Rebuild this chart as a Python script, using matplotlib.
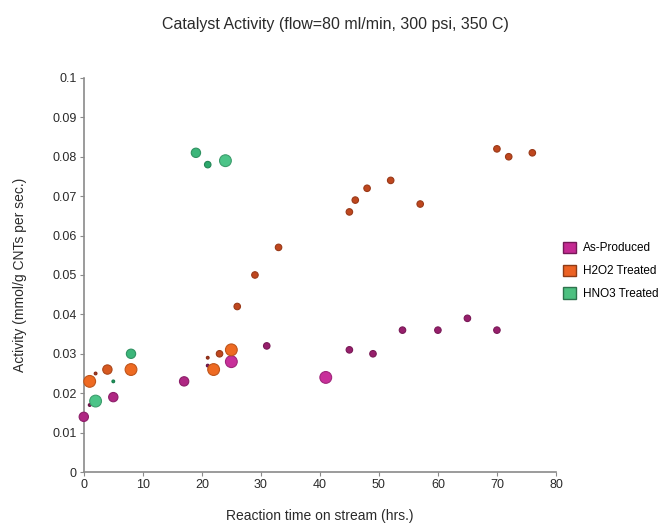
import numpy as np
import matplotlib
matplotlib.use("Agg")
import matplotlib.pyplot as plt
from matplotlib.patches import Patch
from matplotlib.colors import to_rgb

plt.rcParams['font.family'] = ['Liberation Sans', 'DejaVu Sans']

# As-Produced
ap_x = [0, 1, 5, 17, 21, 25, 31, 41, 45, 49, 54, 60, 65, 70]
ap_y = [0.014, 0.017, 0.019, 0.023, 0.027, 0.028, 0.032, 0.024, 0.031, 0.030, 0.036, 0.036, 0.039, 0.036]
ap_s = [3, 1, 3, 3, 1, 4, 2, 4, 2, 2, 2, 2, 2, 2]

# H2O2 Treated
h2_x = [1, 2, 4, 8, 21, 22, 23, 25, 26, 29, 33, 45, 46, 48, 52, 57, 70, 72, 76]
h2_y = [0.023, 0.025, 0.026, 0.026, 0.029, 0.026, 0.030, 0.031, 0.042, 0.050, 0.057,
        0.066, 0.069, 0.072, 0.074, 0.068, 0.082, 0.080, 0.081]
h2_s = [4, 1, 3, 4, 1, 4, 2, 4, 2, 2, 2, 2, 2, 2, 2, 2, 2, 2, 2]

# HNO3 Treated
hn_x = [2, 5, 8, 19, 21, 24]
hn_y = [0.018, 0.023, 0.030, 0.081, 0.078, 0.079]
hn_s = [4, 1, 3, 3, 2, 4]

series = [
    ("As-Produced", ap_x, ap_y, ap_s, "#7e1655", "#c8309a", "#c42a92"),
    ("H2O2 Treated", h2_x, h2_y, h2_s, "#a8361c", "#ee6a22", "#ec6224"),
    ("HNO3 Treated", hn_x, hn_y, hn_s, "#1c9a5e", "#4cc488", "#4dc080"),
]

size_pt = {1: 4, 2: 22, 3: 45, 4: 72}

fig = plt.figure(figsize=(6.65, 5.23), dpi=100)
ax = fig.add_axes([0.126, 0.0975, 0.71, 0.7535])

handles = []
for name, xs, ys, ss, dark, bright, leg in series:
    d = np.array(to_rgb(dark))
    b = np.array(to_rgb(bright))
    cols = [tuple(d + (b - d) * (s - 1) / 3.0) for s in ss]
    edges = [tuple(np.clip((d + (b - d) * (s - 1) / 3.0) * 0.8, 0, 1)) for s in ss]
    ax.scatter(xs, ys, s=[size_pt[s] for s in ss], c=cols, edgecolors=edges,
               linewidths=0.8, zorder=3, clip_on=False)
    handles.append(Patch(facecolor=leg, edgecolor=tuple(np.array(to_rgb(leg)) * 0.6), label=name))

ax.set_xlim(0, 80)
ax.set_ylim(0, 0.1)
ax.set_xticks(range(0, 81, 10))
ax.set_yticks(np.arange(0, 0.101, 0.01))
ax.set_yticklabels(['0', '0.01', '0.02', '0.03', '0.04', '0.05', '0.06', '0.07', '0.08', '0.09', '0.1'])

for side in ['top', 'right']:
    ax.spines[side].set_visible(False)
for side in ['left', 'bottom']:
    ax.spines[side].set_color('#8a8a8a')
    ax.spines[side].set_linewidth(1.2)
ax.tick_params(colors='#8a8a8a', labelcolor='#2a2a2a', labelsize=9, length=3, pad=2,
               direction='out')

ax.set_xlabel("Reaction time on stream (hrs.)", fontsize=10, color='#2a2a2a', labelpad=13)
ax.set_ylabel("Activity (mmol/g CNTs per sec.)", fontsize=10, color='#2a2a2a', labelpad=18)
fig.suptitle("Catalyst Activity (flow=80 ml/min, 300 psi, 350 C)", x=0.505, y=0.968,
             fontsize=11.5, color='#2a2a2a')

fig.legend(handles=handles, loc='upper left', bbox_to_anchor=(0.83, 0.558),
           frameon=False, fontsize=8.5, handlelength=1.1, handleheight=1.1,
           handletextpad=0.6, labelspacing=0.85)

fig.savefig("out.png", dpi=100)
